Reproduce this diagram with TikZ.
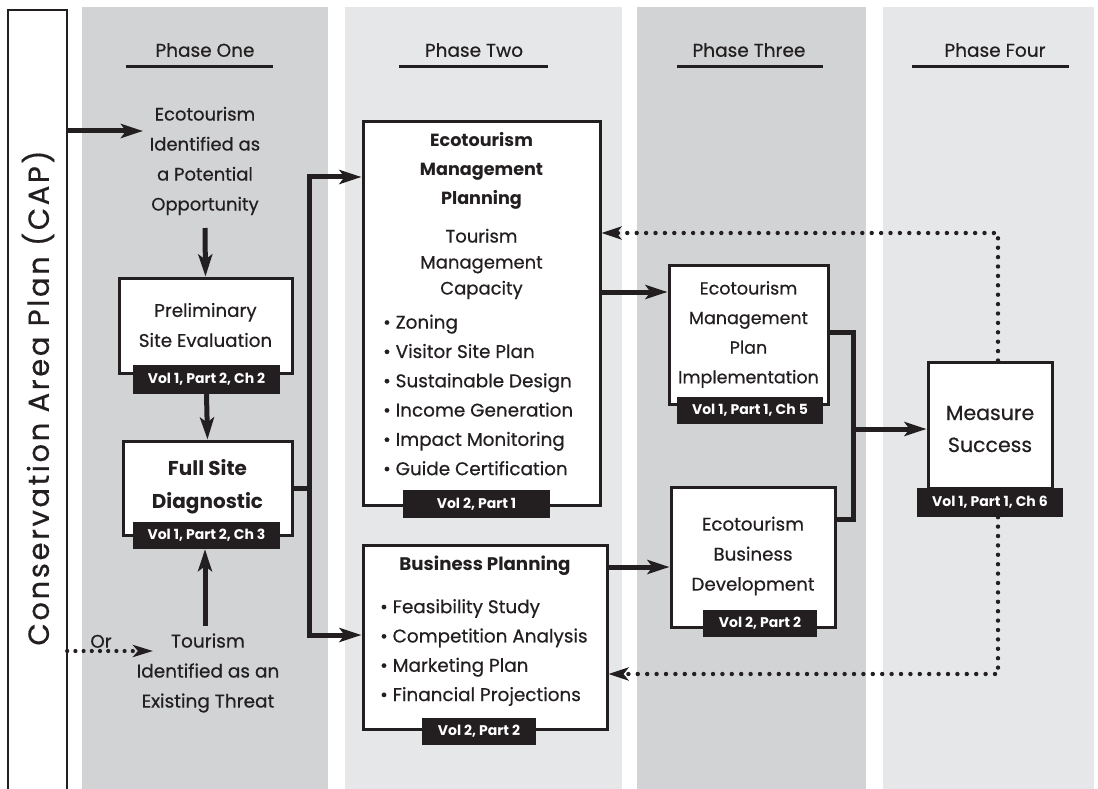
\documentclass[tikz,border=0pt]{standalone}
\usepackage{fontspec}
\setmainfont{Poppins}[UprightFeatures={FakeBold=0.5}]
\newfontfamily\capfont[LetterSpace=9,FakeBold=0.5]{Poppins}
\usetikzlibrary{arrows.meta}
\definecolor{ink}{HTML}{231F20}
\definecolor{darkcol}{HTML}{D1D3D4}
\definecolor{lightcol}{HTML}{E6E7E8}
\tikzset{
  box/.style={draw=ink, line width=3pt, fill=white, inner sep=0pt},
  tagbox/.style={fill=ink, text=white, inner sep=0pt, font=\bfseries\fontsize{14}{16}\selectfont},
  txt/.style={text=ink, align=center, inner sep=0pt, font=\fontsize{18.3}{30}\selectfont},
  btxt/.style={text=ink, align=center, inner sep=0pt, font=\bfseries\fontsize{17.6}{29}\selectfont},
  listtxt/.style={text=ink, align=left, inner sep=0pt, font=\fontsize{18.4}{29.3}\selectfont},
  head/.style={text=ink, inner sep=0pt, font=\fontsize{18.5}{20}\selectfont},
  hline/.style={draw=ink, line width=3pt},
  thickline/.style={draw=ink, line width=5pt},
  thickarrow/.style={draw=ink, line width=5pt, -{Stealth[length=22pt,width=14pt,inset=5pt]}},
  dotarrow/.style={draw=ink, line width=4.4pt, line cap=round, dash pattern=on 0pt off 9.4pt, -{Stealth[length=20pt,width=13pt,inset=5pt]}},
  orarrow/.style={draw=ink, line width=4.2pt, line cap=round, dash pattern=on 0pt off 8.2pt, -{Stealth[length=20pt,width=12pt,inset=5pt]}},
}
\begin{document}
\begin{tikzpicture}[x=1pt,y=-1pt]
\useasboundingbox (0,0) rectangle (1098,789);
\fill[white] (0,0) rectangle (1098,789);
% phase columns
\fill[darkcol] (82,7) rectangle (328,789);
\fill[lightcol] (345,7) rectangle (622,789);
\fill[darkcol] (637,7) rectangle (866,789);
\fill[lightcol] (883,7) rectangle (1094,789);
% headers
\node[head] (h1) at (205,50) {Phase One};
\node[head] (h2) at (474,50) {Phase Two};
\node[head] (h3) at (749,50) {Phase Three};
\node[head] (h4) at (995,50) {Phase Four};
\draw[hline] (126,67) -- (273,67);
\draw[hline] (399,67) -- (548,67);
\draw[hline] (677,67) -- (823,67);
\draw[hline] (912,67) -- (1069,67);
% CAP bar
\node[minimum width=59pt, minimum height=779pt, inner sep=0pt] (cap) at (37.5,399.5) {};
\draw[ink, line width=2.5pt] (cap.south west) -- (cap.north west) -- (cap.north east) -- (cap.south east);
\node[rotate=90, text=ink, inner sep=0pt, font=\capfont\fontsize{29}{30}\selectfont] (captext) at (38,398) {Conservation Area Plan (CAP)};
% Phase one
\node[txt, font=\fontsize{18}{30}\selectfont] (potential) at (205,161) {Ecotourism\\Identified as\\a Potential\\Opportunity};
\coordinate (potin) at (143,131);
\draw[thickarrow] (cap.east |- potin) -- (potin);
\node[box, minimum width=173pt, minimum height=95pt] (prelim) at (205.5,325.5) {};
\node[txt] (prelimtext) at (205.5,325) {Preliminary\\Site Evaluation};
\node[tagbox, minimum width=147pt, minimum height=29pt] (prelimtag) at (206.5,379.5) {Vol 1, Part 2, Ch 2};
\node[box, minimum width=169pt, minimum height=94pt] (full) at (207.5,488) {};
\node[btxt, font=\bfseries\fontsize{20}{33}\selectfont] (fulltext) at (207.5,486.5) {Full Site\\Diagnostic};
\node[tagbox, minimum width=147pt, minimum height=27pt] (fulltag) at (206.5,535.5) {Vol 1, Part 2, Ch 3};
\node[txt, font=\fontsize{18.5}{30}\selectfont] (threat) at (208,673) {Tourism\\Identified as an\\Existing Threat};
\coordinate (potout) at (205,228);
\draw[thickarrow] (potout) -- (prelim.north);
\draw[thickarrow] (prelimtag.south) -- (full.north);
\coordinate (thrup) at (205,626);
\draw[thickarrow] (thrup) -- (thrup |- fulltag.south);
\coordinate (orin) at (153,651);
\draw[orarrow] (cap.east |- orin) -- (orin);
\node[txt, anchor=south] (ortext) at (101,648) {Or};
% Phase two
\node[box, minimum width=237pt, minimum height=383pt] (emp) at (481.5,313.5) {};
\node[btxt] (emptitle) at (481.5,171) {Ecotourism\\Management\\Planning};
\node[txt, font=\fontsize{18}{26}\selectfont] (empsub) at (481.5,264) {Tourism\\Management\\Capacity};
\node[listtxt, anchor=west] (emplist) at (383,395) {\textbullet\ Zoning\\\textbullet\ Visitor Site Plan\\\textbullet\ Sustainable Design\\\textbullet\ Income Generation\\\textbullet\ Impact Monitoring\\\textbullet\ Guide Certification};
\node[tagbox, minimum width=147pt, minimum height=28pt] (emptag) at (476.5,504) {Vol 2, Part 1};
\node[box, minimum width=244pt, minimum height=184pt] (bp) at (485,637) {};
\node[btxt, font=\bfseries\fontsize{18.2}{29}\selectfont] (bptitle) at (485,566) {Business Planning};
\node[listtxt, anchor=west] (bplist) at (380,652.5) {\textbullet\ Feasibility Study\\\textbullet\ Competition Analysis\\\textbullet\ Marketing Plan\\\textbullet\ Financial Projections};
\node[tagbox, minimum width=114pt, minimum height=27pt] (bptag) at (479,731.5) {Vol 2, Part 2};
% bus from full site diagnostic
\coordinate (jt) at (309,177);
\coordinate (jb) at (309,635);
\draw[thickline] (full.east) -- (full.east -| jt);
\draw[thickarrow] (full.east -| jt) -- (jt) -- (jt -| emp.west);
\draw[thickarrow] (full.east -| jt) -- (jb) -- (jb -| bp.west);
% Phase three
\node[box, minimum width=159pt, minimum height=139pt] (empi) at (748.5,334.5) {};
\node[txt, font=\fontsize{17.5}{29.6}\selectfont] (empitext) at (748.5,334.5) {Ecotourism\\Management\\Plan\\Implementation};
\node[tagbox, minimum width=146pt, minimum height=27pt] (empitag) at (750,410.5) {Vol 1, Part 1, Ch 5};
\node[box, minimum width=164pt, minimum height=140pt] (ebd) at (753,557) {};
\node[txt] (ebdtext) at (753,556) {Ecotourism\\Business\\Development};
\node[tagbox, minimum width=114pt, minimum height=27pt] (ebdtag) at (760,623.5) {Vol 2, Part 2};
\coordinate (r1) at (0,292);
\draw[thickarrow] (emp.east |- r1) -- (empi.west |- r1);
\coordinate (r2) at (0,567);
\draw[thickarrow] (bp.east |- r2) -- (ebd.west |- r2);
% Phase four
\node[box, minimum width=124pt, minimum height=126pt] (ms) at (990,425) {};
\node[txt, font=\fontsize{20.5}{32}\selectfont] (mstext) at (990,429) {Measure\\Success};
\node[tagbox, minimum width=146pt, minimum height=29pt] (mstag) at (990,502.5) {Vol 1, Part 1, Ch 6};
\coordinate (mj) at (853,429);
\coordinate (e1) at (0,332);
\coordinate (e2) at (0,519);
\draw[thickline] (empi.east |- e1) -- (mj |- e1) -- (mj |- e2) -- (ebd.east |- e2);
\draw[thickarrow] (mj) -- (mj -| ms.west);
% feedback dotted
\coordinate (dx) at (998,0);
\coordinate (d1) at (0,233);
\coordinate (d2) at (0,674);
\draw[dotarrow] (ms.north -| dx) -- (dx |- d1) -- (emp.east |- d1);
\draw[dotarrow] (mstag.south -| dx) -- (dx |- d2) -- (bp.east |- d2);
\end{tikzpicture}
\end{document}
